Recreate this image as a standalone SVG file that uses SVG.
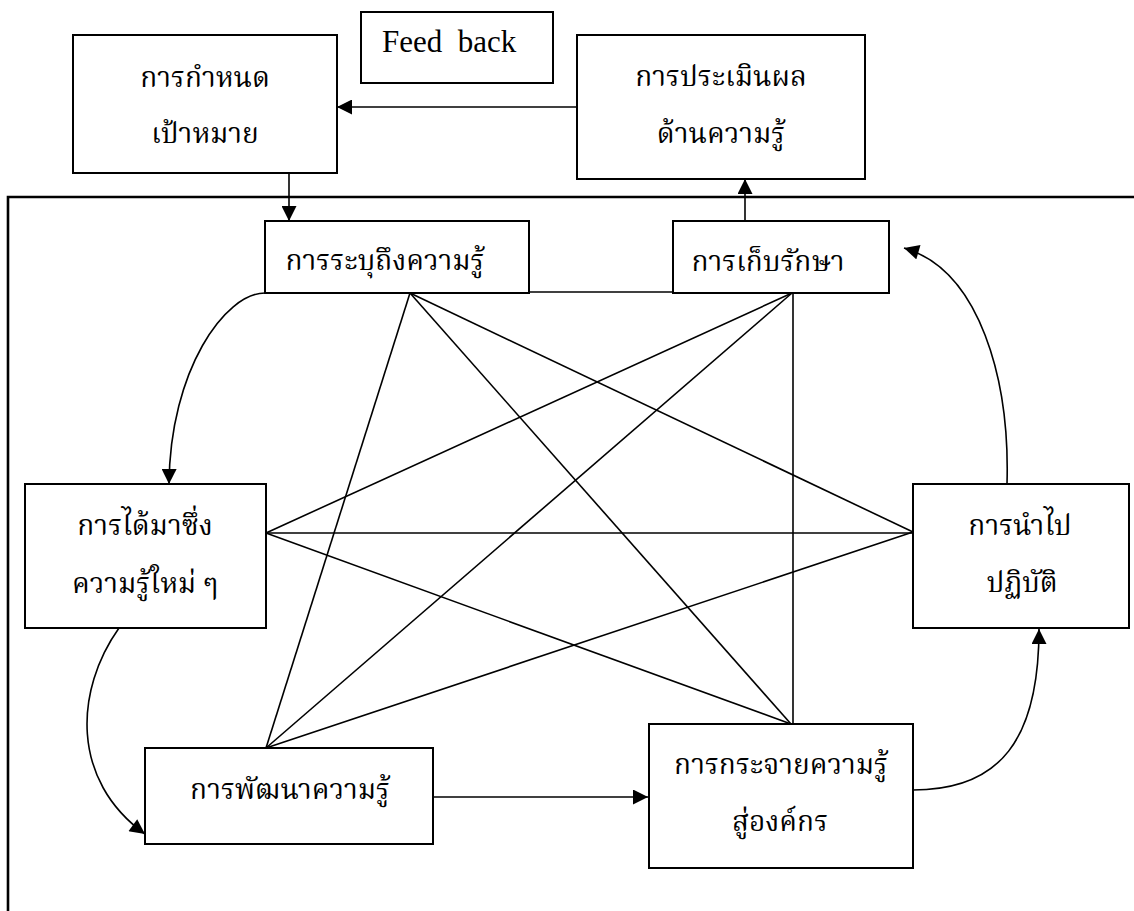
<svg xmlns="http://www.w3.org/2000/svg" width="1134" height="911" viewBox="0 0 1134 911">
  <style>
    .box { fill: #ffffff; stroke: #000000; stroke-width: 2; }
    .link { fill: none; stroke: #000000; stroke-width: 1.6; }
    .frame { fill: none; stroke: #000000; stroke-width: 2.6; }
    .lbl { font-family: "Noto Serif Thai", "Kinnari", "Laksaman", "TH Sarabun New", "Norasi", "Noto Sans Thai", "Liberation Serif", serif; font-size: 28px; text-anchor: middle; fill: #000000; }
    .en { font-family: "Liberation Serif", "Times New Roman", serif; font-size: 31px; fill: #000000; }
  </style>
  <defs>
    <marker id="arrow" viewBox="0 0 16 16" refX="16" refY="8" markerWidth="16" markerHeight="15" markerUnits="userSpaceOnUse" orient="auto">
      <path d="M0,0 L16,8 L0,16 z" fill="#000000"/>
    </marker>
  </defs>

  <rect width="1134" height="911" fill="#ffffff"/>

  <!-- enclosing frame, open to the right and bottom -->
  <path class="frame" d="M1134,197 H8 V911"/>

  <g id="connectors">
    <!-- feedback and flow arrows -->
    <path class="link" d="M577,107 H337" marker-end="url(#arrow)"/>
    <path class="link" d="M289,173 V221" marker-end="url(#arrow)"/>
    <path class="link" d="M745,221 V179" marker-end="url(#arrow)"/>
    <path class="link" d="M433,797 H648" marker-end="url(#arrow)"/>
    <path class="link" d="M265,293 C225,293 170,370 169,484" marker-end="url(#arrow)"/>
    <path class="link" d="M119,628 C75,690 70,780 145,834" marker-end="url(#arrow)"/>
    <path class="link" d="M913,790 C1000,790 1039,740 1039,629" marker-end="url(#arrow)"/>
    <path class="link" d="M1007,484 C1010,380 980,270 904,248" marker-end="url(#arrow)"/>
    <!-- mesh linking every stage -->
    <path class="link" d="M529,292 H673"/>
    <path class="link" d="M410,293 L266,748"/>
    <path class="link" d="M410,293 L791,724"/>
    <path class="link" d="M410,293 L913,532"/>
    <path class="link" d="M792,293 L266,533"/>
    <path class="link" d="M792,293 L266,748"/>
    <path class="link" d="M793,293 V724"/>
    <path class="link" d="M266,533 H913"/>
    <path class="link" d="M266,533 L791,724"/>
    <path class="link" d="M266,748 L913,532"/>
  </g>

  <g id="goal">
    <rect class="box" x="73" y="35" width="264" height="138"/>
    <text class="lbl" x="205" y="87">การกำหนด</text>
    <text class="lbl" x="205" y="143">เป้าหมาย</text>
  </g>

  <g id="feedback">
    <rect class="box" x="361" y="12" width="192" height="71"/>
    <text class="en" x="382" y="52" xml:space="preserve">Feed  back</text>
  </g>

  <g id="evaluation">
    <rect class="box" x="577" y="35" width="288" height="144"/>
    <text class="lbl" x="721" y="86">การประเมินผล</text>
    <text class="lbl" x="721" y="143">ด้านความรู้</text>
  </g>

  <g id="identify">
    <rect class="box" x="265" y="221" width="264" height="72"/>
    <text class="lbl" x="385" y="270">การระบุถึงความรู้</text>
  </g>

  <g id="storage">
    <rect class="box" x="673" y="221" width="216" height="72"/>
    <text class="lbl" x="768" y="271">การเก็บรักษา</text>
  </g>

  <g id="acquire">
    <rect class="box" x="25" y="484" width="241" height="144"/>
    <text class="lbl" x="145" y="535">การได้มาซึ่ง</text>
    <text class="lbl" x="145" y="593">ความรู้ใหม่ ๆ</text>
  </g>

  <g id="apply">
    <rect class="box" x="913" y="484" width="216" height="144"/>
    <text class="lbl" x="1020" y="535">การนำไป</text>
    <text class="lbl" x="1022" y="592">ปฏิบัติ</text>
  </g>

  <g id="develop">
    <rect class="box" x="145" y="748" width="288" height="96"/>
    <text class="lbl" x="290" y="799">การพัฒนาความรู้</text>
  </g>

  <g id="distribute">
    <rect class="box" x="649" y="724" width="264" height="144"/>
    <text class="lbl" x="781" y="774">การกระจายความรู้</text>
    <text class="lbl" x="780" y="831">สู่องค์กร</text>
  </g>
</svg>
